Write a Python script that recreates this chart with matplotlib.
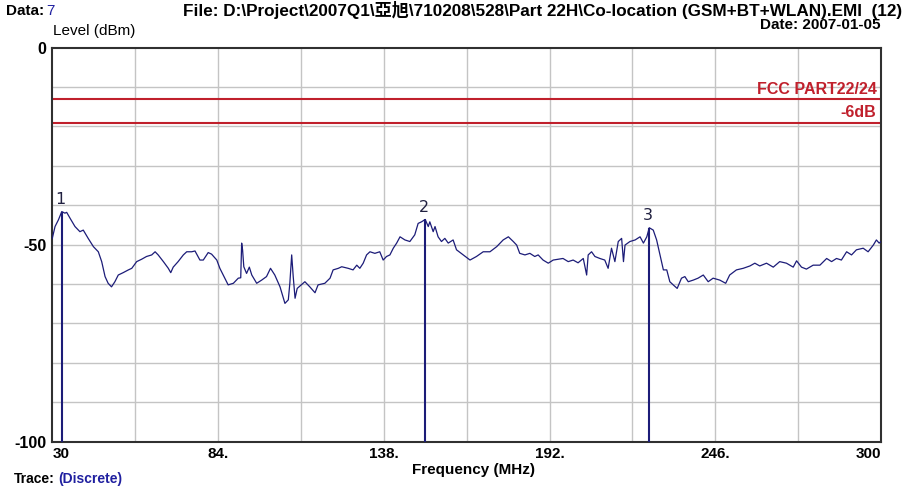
import matplotlib.pyplot as plt

# Scan trace (MHz, dBm)
freq = [30.0, 30.9, 32.0, 33.1, 34.1, 34.7, 35.8, 37.4, 39.0, 40.1, 41.7, 43.4, 45.0, 46.1,
        47.2, 48.2, 49.3, 50.4, 51.5, 53.1, 54.8, 55.9, 57.5, 59.1, 60.7, 62.4, 63.5, 64.5,
        66.2, 67.8, 68.6, 69.4, 71.0, 72.7, 73.8, 75.4, 76.5, 78.1, 79.2, 80.8, 81.9, 83.6,
        84.6, 85.7, 87.3, 89.0, 90.6, 91.4, 91.7, 92.0, 92.4, 93.3, 94.2, 95.0, 96.6, 98.2,
        99.8, 101.1, 102.5, 104.2, 105.8, 106.9, 107.4, 108.0, 108.5, 109.1, 109.8, 110.7,
        112.3, 113.9, 115.6, 116.6, 118.8, 120.5, 121.5, 123.2, 124.3, 126.4, 128.0, 129.2,
        130.2, 131.3, 132.4, 133.5, 135.1, 136.7, 137.8, 138.9, 140.0, 141.1, 142.2, 143.3,
        144.9, 146.5, 148.1, 149.2, 150.3, 151.5, 152.5, 153.0, 154.1, 154.7, 155.7, 156.8,
        157.9, 159.0, 160.6, 161.7, 163.9, 166.1, 168.2, 170.4, 172.6, 174.8, 176.9, 178.6,
        180.2, 181.3, 182.3, 184.0, 185.6, 187.2, 188.3, 189.9, 191.6, 193.2, 194.8, 196.4,
        198.1, 199.7, 201.3, 203.0, 204.1, 204.6, 205.7, 206.8, 208.4, 210.0, 211.1, 212.2,
        213.3, 214.4, 215.5, 216.1, 216.6, 218.2, 219.9, 221.5, 222.6, 223.7, 224.5, 225.8,
        226.9, 228.0, 229.1, 230.2, 231.2, 232.3, 233.6, 235.0, 236.1, 237.2, 238.8, 240.4,
        242.1, 243.7, 245.3, 247.5, 249.4, 250.7, 252.9, 255.1, 257.3, 258.9, 260.5, 262.7,
        264.9, 267.0, 269.2, 271.4, 272.5, 274.1, 275.7, 277.9, 280.1, 282.3, 283.9, 285.5,
        287.1, 288.8, 290.4, 292.0, 294.2, 295.8, 297.5, 298.5, 299.4, 300.0]
level = [-48.4, -45.4, -43.7, -41.6, -42.0, -41.8, -43.3, -45.4, -46.7, -46.3, -48.4, -50.5,
         -51.8, -54.3, -58.1, -59.8, -60.7, -59.4, -57.7, -57.1, -56.4, -56.0, -54.3, -53.7,
         -53.0, -52.6, -51.8, -52.6, -54.3, -56.0, -57.1, -55.7, -54.3, -52.6, -51.8, -51.8,
         -51.6, -53.9, -53.9, -52.0, -52.4, -53.9, -56.0, -57.7, -60.2, -59.8, -58.5, -58.4,
         -49.6, -51.3, -55.6, -57.3, -55.7, -57.7, -59.8, -59.0, -58.1, -56.0, -57.7, -60.7,
         -64.9, -64.0, -59.8, -52.6, -58.1, -63.6, -61.1, -60.5, -59.4, -60.7, -62.2, -60.2,
         -59.8, -58.5, -56.4, -56.0, -55.6, -56.0, -56.4, -55.2, -56.0, -54.7, -52.6, -51.8,
         -52.2, -51.8, -53.9, -53.0, -52.6, -50.9, -49.6, -48.0, -48.8, -49.2, -47.5, -44.6,
         -44.2, -43.6, -45.4, -44.2, -46.7, -45.4, -48.0, -49.2, -48.4, -49.6, -48.8, -51.3,
         -52.6, -53.9, -53.0, -51.8, -51.8, -50.5, -48.8, -48.0, -49.2, -50.1, -52.2, -52.6,
         -52.2, -53.0, -52.6, -53.9, -54.7, -53.9, -53.7, -53.5, -54.3, -53.9, -54.6, -53.5,
         -57.7, -52.6, -51.8, -53.0, -53.5, -53.9, -56.0, -50.9, -54.3, -49.2, -48.4, -54.3,
         -50.1, -49.2, -48.8, -48.0, -49.6, -48.0, -45.7, -46.3, -48.8, -52.6, -56.4, -56.4,
         -59.4, -60.2, -61.1, -58.5, -58.1, -59.4, -59.0, -58.5, -57.7, -59.4, -58.5, -59.0,
         -59.8, -57.7, -56.4, -56.0, -55.4, -54.7, -55.4, -54.7, -55.7, -54.3, -54.7, -55.7,
         -54.1, -55.7, -56.2, -55.2, -55.2, -53.5, -54.3, -53.5, -53.9, -51.8, -52.6, -51.3,
         -50.9, -51.8, -50.1, -48.8, -49.6, -49.2]

# Peak markers
marker_ids = ['1', '2', '3']
marker_freq = [33.1, 151.5, 224.5]
marker_level = [-41.6, -43.6, -45.7]

# Limit lines
limit_names = ['FCC PART22/24', '-6dB']
limit_level = [-13, -19]

x_ticks = [30, 84, 138, 192, 246, 300]
x_tick_labels = ['30', '84.', '138.', '192.', '246.', '300']
y_ticks = [0, -50, -100]
y_tick_labels = ['0', '-50', '-100']

navy = '#1c1c78'
red = '#c0202c'
blue = '#2020a0'
cjk = ['Liberation Sans', 'Noto Sans CJK TC', 'DejaVu Sans']

fig = plt.figure(figsize=(9.06, 4.86), dpi=100)
ax = fig.add_axes([0.0577, 0.0912, 0.9147, 0.8107])

ax.set_xlim(30, 300)
ax.set_ylim(-100, 0)

# grid every 27 MHz / 10 dB
for gx in range(57, 300, 27):
    ax.axvline(gx, color='#c4c4c4', lw=1, zorder=0)
for gy in range(-90, 0, 10):
    ax.axhline(gy, color='#c4c4c4', lw=1, zorder=0)

for lv, name in zip(limit_level, limit_names):
    ax.axhline(lv, color=red, lw=1.5, zorder=2)
    ax.text(298.5, lv + 0.6, name, color=red, fontsize=11.5, fontweight='bold',
            ha='right', va='bottom', family=cjk)

ax.plot(freq, level, color=navy, lw=0.9, zorder=3)

for mid, mf, ml in zip(marker_ids, marker_freq, marker_level):
    ax.vlines(mf, -100, ml, color=navy, lw=1.5, zorder=4)
    ax.text(mf - 0.5, ml + 1.2, mid, color='#202040', fontsize=11.5, ha='center', va='bottom')

ax.set_xticks(x_ticks)
ax.set_xticklabels(x_tick_labels, fontsize=11, fontweight='bold', family=cjk)
ax.set_yticks(y_ticks)
ax.set_yticklabels(y_tick_labels, fontsize=11.5, fontweight='bold', family=cjk)
ax.tick_params(length=0, pad=4)
xl = ax.get_xticklabels()
xl[0].set_ha('left')
xl[-1].set_ha('right')

for s in ax.spines.values():
    s.set_color('#303030')
    s.set_linewidth(1.5)

fig.text(473 / 906, 1 - 470 / 486, 'Frequency (MHz)', fontsize=11, fontweight='bold',
         ha='center', va='center', family=cjk)
fig.text(53 / 906, 1 - 31 / 486, 'Level (dBm)', fontsize=11, ha='left', va='center', family=cjk)

# header line
fig.text(6 / 906, 1 - 11 / 486, 'Data:', fontsize=11, fontweight='bold', ha='left', va='center', family=cjk)
fig.text(46 / 906, 1 - 11 / 486, '7', fontsize=11, color=blue, ha='left', va='center', family=cjk)
fig.text(183 / 906, 1 - 10 / 486,
         'File: D:\\Project\\2007Q1\\亞旭\\710208\\528\\Part 22H\\Co-location (GSM+BT+WLAN).EMI  (12)',
         fontsize=12.3, fontweight='bold', ha='left', va='center', family=cjk)
fig.text(880 / 906, 1 - 25 / 486, 'Date: 2007-01-05', fontsize=11, fontweight='bold',
         ha='right', va='center', family=cjk)

# footer
fig.text(14 / 906, 1 - 479 / 486, 'Trace:', fontsize=10, fontweight='bold', ha='left', va='center', family=cjk)
fig.text(58 / 906, 1 - 479 / 486, '(Discrete)', fontsize=10, fontweight='bold', color=blue,
         ha='left', va='center', family=cjk)

fig.savefig('out.png', dpi=100)
